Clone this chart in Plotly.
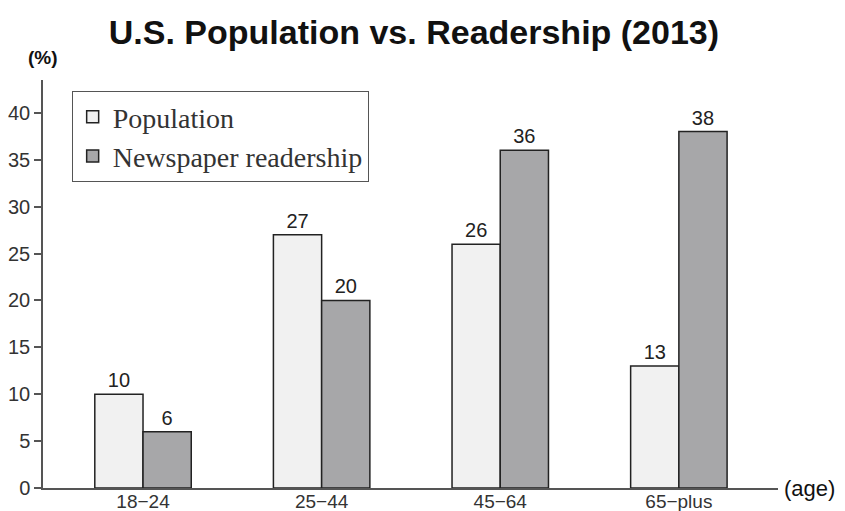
import plotly.graph_objects as go

categories = ["18−24", "25−44", "45−64", "65−plus"]
population = [10, 27, 26, 13]
readership = [6, 20, 36, 38]
y_ticks = [0, 5, 10, 15, 20, 25, 30, 35, 40]

SANS = "Liberation Sans, Arial, Helvetica, sans-serif"
SERIF = "Liberation Serif, DejaVu Serif, serif"

fig = go.Figure()
fig.add_trace(go.Bar(
    x=categories, y=population, name="Population",
    marker=dict(color="#f1f1f1", line=dict(color="#222222", width=1.5)),
    text=population, textposition="outside",
    textfont=dict(family=SANS, size=20, color="#222222"),
    cliponaxis=False,
))
fig.add_trace(go.Bar(
    x=categories, y=readership, name="Newspaper readership",
    marker=dict(color="#a7a7a9", line=dict(color="#222222", width=1.5)),
    text=readership, textposition="outside",
    textfont=dict(family=SANS, size=20, color="#222222"),
    cliponaxis=False,
))

# page body has an 8px margin, so the figure is drawn 8px smaller
fig.update_layout(
    width=837, height=503,
    margin=dict(l=35, r=67, t=72, b=23, autoexpand=False),
    paper_bgcolor="white", plot_bgcolor="white",
    barmode="group", bargap=0.46, bargroupgap=0,
    title=dict(
        text="<b>U.S. Population vs. Readership (2013)</b>",
        x=0.485, xanchor="center", y=0.952, yanchor="middle",
        font=dict(family=SANS, size=34, color="#111111"),
    ),
    legend=dict(
        x=0.039, y=0.973, xanchor="left", yanchor="top",
        bgcolor="white", bordercolor="#555555", borderwidth=1,
        font=dict(family=SERIF, size=28, color="#333333"),
    ),
    showlegend=True,
)

fig.update_xaxes(
    range=[-0.56, 3.555], automargin=False,
    showline=True, linecolor="#555555", linewidth=1.5,
    ticks="", showgrid=False, zeroline=False,
    ticklabelstandoff=-5,
    tickfont=dict(family=SANS, size=19, color="#333333"),
)
fig.update_yaxes(
    range=[0, 43.5], automargin=False,
    tickvals=y_ticks,
    showline=True, linecolor="#555555", linewidth=1.5,
    ticks="outside", ticklen=7, tickcolor="#555555", tickwidth=1.5,
    showgrid=False, zeroline=False,
    tickfont=dict(family=SANS, size=20, color="#333333"),
)

fig.add_annotation(
    text="<b>(%)</b>", xref="paper", yref="paper", x=0.0, y=1.055,
    xanchor="center", yanchor="middle", showarrow=False,
    font=dict(family=SANS, size=19, color="#111111"),
)
fig.add_annotation(
    text="(age)", xref="paper", yref="paper", x=1.005, y=0,
    xanchor="left", yanchor="middle", showarrow=False,
    font=dict(family=SANS, size=22, color="#111111"),
)

fig.write_html("out.html")
